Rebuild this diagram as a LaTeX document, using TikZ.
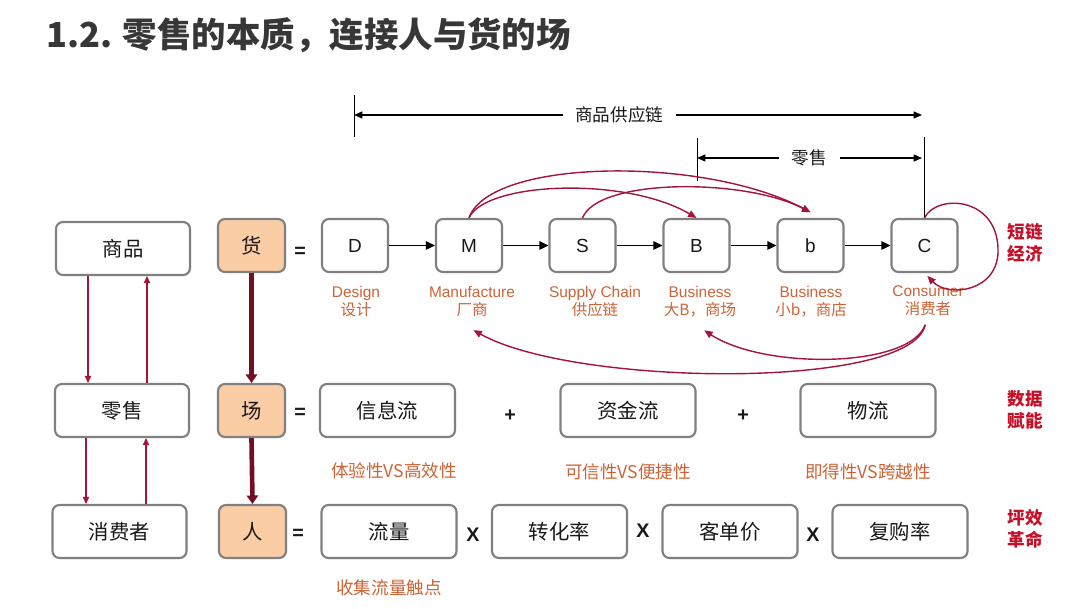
\documentclass[tikz,border=0pt]{standalone}
\usepackage{fontspec}
\setmainfont{Liberation Sans}
\newfontfamily\cjk{Noto Sans CJK SC}
\usetikzlibrary{arrows.meta,shadows}
\definecolor{boxgray}{RGB}{128,128,128}
\definecolor{peach}{RGB}{250,205,165}
\definecolor{labcol}{RGB}{205,100,55}
\definecolor{redlab}{RGB}{200,15,40}
\definecolor{curvecol}{RGB}{165,20,60}
\definecolor{maroonc}{RGB}{115,15,35}
\definecolor{titlecol}{RGB}{55,55,55}
\definecolor{txt}{RGB}{25,25,25}
\tikzset{
  box/.style={draw=boxgray, line width=1.5pt, rounded corners=5pt, fill=white,
    minimum height=1.325cm, inner sep=0pt, text=txt,
    drop shadow={opacity=0.18, shadow xshift=0.8pt, shadow yshift=-0.8pt},
    font=\cjk\fontsize{14.5}{16}\selectfont},
  wide/.style={box, minimum width=3.35cm},
  goods/.style={box, fill=peach, minimum width=1.675cm},
  chain/.style={box, minimum width=1.65cm, font=\fontsize{13.5}{15}\selectfont},
  lab/.style={text=labcol, align=center, inner sep=1pt, font=\fontsize{11}{12.8}\selectfont},
  note/.style={text=labcol, inner sep=1pt, font=\cjk\fontsize{12.5}{14}\selectfont},
  redl/.style={text=redlab, align=center, inner sep=1pt, font=\cjk\bfseries\fontsize{12.5}{15.5}\selectfont},
  sym/.style={inner sep=0pt, text=txt, font=\bfseries\fontsize{14}{16}\selectfont},
  chainarr/.style={draw=black, line width=1.2pt, -{Triangle[length=6.5pt,width=6pt]}},
  leftarr/.style={draw=curvecol, line width=0.9pt, -{Triangle[length=5pt,width=4.5pt]}},
  thickarr/.style={draw=maroonc, line width=3.3pt, -{Triangle[length=6pt,width=8pt]}},
  arcarr/.style={draw=curvecol, line width=1pt, -{Triangle[length=6pt,width=5pt]}},
  dimline/.style={draw=black, line width=0.7pt},
  dimarr/.style={draw=black, line width=0.9pt, {Triangle[length=6pt,width=5pt]}-{Triangle[length=6pt,width=5pt]}},
  dimtxt/.style={fill=white, inner xsep=9pt, text=txt, font=\cjk\fontsize{12.5}{14}\selectfont}
}
\begin{document}
\begin{tikzpicture}[x=0.025cm,y=-0.025cm]
\useasboundingbox[fill=white] (0,0) rectangle (1080,609);

% title
\node[anchor=west, text=titlecol, inner sep=0pt, font=\cjk\bfseries\fontsize{24.5}{28}\selectfont] (title) at (46,35) {1.2. 零售的本质，连接人与货的场};

% left column
\node[wide] (shop) at (123,248.5) {商品};
\node[wide] (retail) at (122,410.5) {零售};
\node[wide] (cons) at (119.5,531.5) {消费者};
\coordinate (xa) at (88,0);
\coordinate (xb) at (147,0);
\coordinate (xc) at (86,0);
\coordinate (xd) at (146,0);
\draw[leftarr] (shop.south -| xa) -- (retail.north -| xa);
\draw[leftarr] (retail.north -| xb) -- (shop.south -| xb);
\draw[leftarr] (retail.south -| xc) -- (cons.north -| xc);
\draw[leftarr] (cons.north -| xd) -- (retail.south -| xd);

% goods column
\node[goods] (huo) at (251.5,245.5) {货};
\node[goods] (chang) at (251.5,410.5) {场};
\node[goods] (ren) at (252.5,531.5) {人};
\draw[thickarr] (huo.south) -- (chang.north);
\draw[thickarr] (chang.south) -- (ren.north);
\node[sym] (eq1) at (300,252) {=};
\node[sym] (eq2) at (300,413) {=};
\node[sym] (eq3) at (298,534) {=};

% chain row
\node[chain] (nD) at (355,245.5) {D};
\node[chain] (nM) at (469,245.5) {M};
\node[chain] (nS) at (582.5,245.5) {S};
\node[chain] (nB) at (696.5,245.5) {B};
\node[chain] (nb) at (810.5,245.5) {b};
\node[chain] (nC) at (924.5,245.5) {C};
\foreach \a/\b in {nD/nM,nM/nS,nS/nB,nB/nb,nb/nC}
  \draw[chainarr] (\a) -- (\b);

\node[lab] (Dlab) at (356,302) {Design\\{\cjk 设计}};
\node[lab] (Mlab) at (472,302) {Manufacture\\{\cjk 厂商}};
\node[lab] (Slab) at (595,302) {Supply Chain\\{\cjk 供应链}};
\node[lab] (Blab) at (700,302) {Business\\{\cjk 大B，商场}};
\node[lab] (blab) at (811,302) {Business\\{\cjk 小b，商店}};
\node[lab] (Clab) at (928,301) {Consumer\\{\cjk 消费者}};

% dimension lines
\coordinate (t1a) at (354,95);
\coordinate (t1b) at (354,137);
\coordinate (s1) at (354,115);
\coordinate (s2) at (922,115);
\coordinate (v1) at (924.5,137);
\coordinate (r1a) at (697,138);
\coordinate (r1b) at (697,181);
\coordinate (r2a) at (697,158);
\coordinate (r2b) at (922,158);
\draw[dimline] (t1a) -- (t1b);
\draw[dimarr] (s1) -- node[dimtxt, pos=0.467] (supply) {商品供应链} (s2);
\draw[dimline] (v1) -- (nC.north);
\draw[dimline] (r1a) -- (r1b);
\draw[dimarr] (r2a) -- node[dimtxt] (retailtop) {零售} (r2b);

% top arcs
\draw[arcarr] (nM.north) .. controls (485,182) and (625,176) .. (nB.north);
\draw[arcarr] (nM.north) .. controls (490,158) and (705,156) .. ([yshift=4pt]nb.north);
\draw[arcarr] (nS.north) .. controls (598,178) and (745,178) .. ([yshift=4pt]nb.north);

% loop on C
\draw[arcarr] (nC.north) .. controls (936,194) and (996,196) .. (998,248)
  .. controls (1000,292) and (948,298) .. ([xshift=2pt,yshift=-2pt]nC.south);

% bottom arcs
\draw[arcarr] ([xshift=-2pt,yshift=-5pt]Clab.south) .. controls (912,390) and (575,387) .. ([xshift=1pt,yshift=-8pt]Mlab.south);
\draw[arcarr] ([xshift=-2pt,yshift=-5pt]Clab.south) .. controls (910,368) and (765,370) .. ([xshift=3pt,yshift=-8pt]Blab.south);

% right labels
\node[redl] (r1) at (1025,243) {短链\\经济};
\node[redl] (r2) at (1025,410) {数据\\赋能};
\node[redl] (r3) at (1025,529) {坪效\\革命};

% row 2
\node[wide, minimum width=3.375cm] (info) at (387.5,410.5) {信息流};
\node[wide, minimum width=3.375cm] (money) at (628,410.5) {资金流};
\node[wide, minimum width=3.375cm] (logi) at (868,410.5) {物流};
\node[sym, font=\bfseries\fontsize{14}{16}\selectfont] (p1) at (510,416) {+};
\node[sym, font=\bfseries\fontsize{14}{16}\selectfont] (p2) at (743,416) {+};
\node[note] (n1) at (394,471) {体验性VS高效性};
\node[note] (n2) at (628,472) {可信性VS便捷性};
\node[note] (n3) at (868,472) {即得性VS跨越性};

% row 3
\node[wide, minimum width=3.375cm] (flow) at (389,531.5) {流量};
\node[wide, minimum width=3.375cm] (conv) at (559.5,531.5) {转化率};
\node[wide, minimum width=3.375cm] (price) at (730,531.5) {客单价};
\node[wide, minimum width=3.375cm] (rebuy) at (900,531.5) {复购率};
\node[sym] (x1) at (473,535) {X};
\node[sym] (x2) at (643,531) {X};
\node[sym] (x3) at (813,535) {X};
\node[note] (n4) at (389,588) {收集流量触点};
\end{tikzpicture}
\end{document}
